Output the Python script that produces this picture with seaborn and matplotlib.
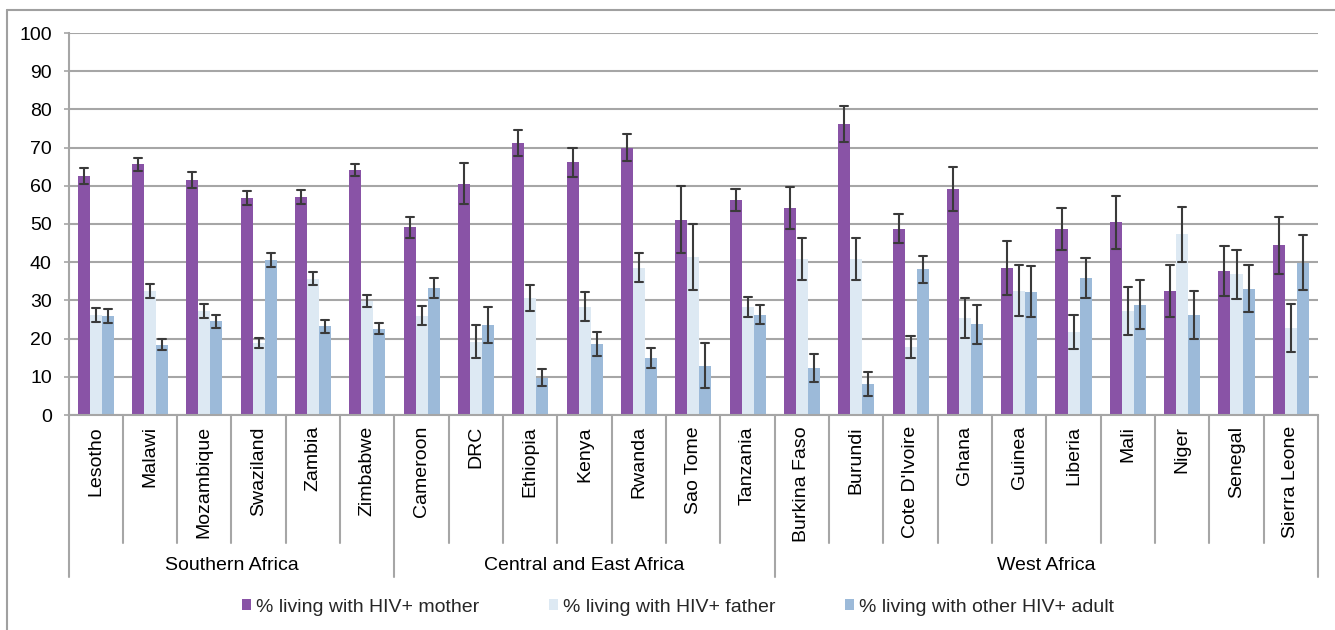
import numpy as np
import pandas as pd
import matplotlib
matplotlib.use("Agg")
import matplotlib.pyplot as plt
import matplotlib.transforms as mtransforms
from matplotlib.lines import Line2D
from matplotlib.patches import Patch
import seaborn as sns

# Countries, grouped by region
countries = ["Lesotho", "Malawi", "Mozambique", "Swaziland", "Zambia", "Zimbabwe",
             "Cameroon", "DRC", "Ethiopia", "Kenya", "Rwanda", "Sao Tome", "Tanzania",
             "Burkina Faso", "Burundi", "Cote D'Ivoire", "Ghana", "Guinea", "Liberia",
             "Mali", "Niger", "Senegal", "Sierra Leone"]
regions = ["Southern Africa"] * 6 + ["Central and East Africa"] * 7 + ["West Africa"] * 10

# Percentages and half-widths of the confidence intervals
mother = [62.6, 65.6, 61.5, 56.8, 57.0, 64.1,
          49.1, 60.5, 71.3, 66.1, 70.0, 51.1, 56.3,
          54.2, 76.2, 48.8, 59.2, 38.5, 48.6, 50.4, 32.4, 37.7, 44.4]
mother_err = [2.1, 1.8, 2.2, 1.75, 1.85, 1.65,
              2.85, 5.35, 3.4, 3.85, 3.55, 8.75, 2.8,
              5.55, 4.65, 3.75, 5.8, 7.0, 5.5, 7.0, 6.8, 6.5, 7.4]
father = [26.2, 32.5, 27.3, 18.8, 35.7, 29.9,
          26.0, 19.2, 30.6, 28.4, 38.5, 41.4, 28.3,
          40.9, 40.9, 17.7, 25.4, 32.5, 21.8, 27.3, 47.3, 36.8, 22.7]
father_err = [1.75, 1.8, 1.85, 1.35, 1.75, 1.6,
              2.45, 4.25, 3.5, 3.7, 3.8, 8.6, 2.6,
              5.5, 5.5, 2.85, 5.15, 6.65, 4.45, 6.3, 7.2, 6.45, 6.25]
other = [25.9, 18.4, 24.5, 40.6, 23.2, 22.6,
         33.2, 23.6, 9.8, 18.5, 14.9, 12.9, 26.3,
         12.3, 8.2, 38.1, 23.8, 32.3, 35.9, 28.9, 26.2, 33.1, 39.9]
other_err = [1.75, 1.45, 1.8, 1.75, 1.75, 1.5,
             2.7, 4.65, 2.2, 3.15, 2.7, 5.85, 2.5,
             3.7, 3.1, 3.65, 5.1, 6.7, 5.25, 6.4, 6.25, 6.2, 7.25]

series_names = ["% living with HIV+ mother", "% living with HIV+ father",
                "% living with other HIV+ adult"]
colors = ["#8953A6", "#DDE9F3", "#9CBAD9"]

# Long-form table: each bar gets its lower and upper interval bound,
# so the mean is the bar height and the min/max span is the error bar.
rows = []
for name, vals, errs in zip(series_names, [mother, father, other],
                            [mother_err, father_err, other_err]):
    for c, v, e in zip(countries, vals, errs):
        rows.append((c, name, v - e))
        rows.append((c, name, v + e))
df = pd.DataFrame(rows, columns=["country", "series", "pct"])

sns.set_style("white")
plt.rcParams["font.family"] = ["Liberation Sans", "DejaVu Sans"]
FS = 14

W, H = 1335, 630
fig = plt.figure(figsize=(W / 100, H / 100), dpi=100)
ax = fig.add_axes([68.5 / W, 1 - 415 / H, (1318 - 68.5) / W, 382 / H])

sns.barplot(data=df, x="country", y="pct", hue="series",
            order=countries, hue_order=series_names, palette=colors,
            estimator="mean", errorbar=lambda x: (x.min(), x.max()),
            width=0.664, capsize=0.45, saturation=1, linewidth=0,
            err_kws={"color": "#3a3a3a", "linewidth": 1.5},
            legend=False, ax=ax)

grey = "#A6A6A6"
ax.set_xlim(-0.5, len(countries) - 0.5)
ax.set_ylim(0, 100)
ax.set_yticks(np.arange(0, 101, 10))
ax.yaxis.grid(True, color=grey, linewidth=1.5)
ax.xaxis.grid(False)
ax.set_axisbelow(True)
ax.set_xlabel("")
ax.set_ylabel("")
for side in ["top", "right"]:
    ax.spines[side].set_visible(False)
for side in ["left", "bottom"]:
    ax.spines[side].set_color(grey)
    ax.spines[side].set_linewidth(1.5)

ax.tick_params(axis="y", length=3.6, width=1.2, color=grey, pad=8.4,
               labelsize=FS, labelcolor="black", left=True)
ax.tick_params(axis="x", length=0, pad=8.0, labelsize=FS, labelcolor="black")
ax.set_xticks(range(len(countries)))
ax.set_xticklabels(countries, rotation=90, ha="center", va="top")

# Two-level category axis: country separators and region separators
trans = mtransforms.blended_transform_factory(ax.transData, ax.transAxes)
region_breaks = [-0.5]
for i in range(1, len(regions)):
    if regions[i] != regions[i - 1]:
        region_breaks.append(i - 0.5)
region_breaks.append(len(countries) - 0.5)
for b in np.arange(-0.5, len(countries), 1.0):
    depth = -0.424 if any(abs(b - r) < 1e-9 for r in region_breaks) else -0.335
    ax.add_line(Line2D([b, b], [0, depth], transform=trans, clip_on=False,
                       color=grey, linewidth=1.5))

for start, end in zip(region_breaks[:-1], region_breaks[1:]):
    name = regions[int(start + 0.5)]
    ax.text((start + end) / 2, -0.393, name, transform=trans,
            ha="center", va="center", fontsize=FS, color="black")

handles = [Patch(facecolor=c, edgecolor="none") for c in colors]
fig.legend(handles, series_names, loc="center", bbox_to_anchor=(0.508, 1 - 607 / H),
           ncol=3, frameon=False, fontsize=FS, handlelength=0.45,
           handleheight=0.45, handletextpad=0.25, columnspacing=3.6)

# Outer chart frame (left and top edges)
fx, fy = 7 / W, 1 - 10 / H
fig.add_artist(Line2D([fx, fx], [0, fy], transform=fig.transFigure,
                      color="#A0A0A0", linewidth=1.5))
fig.add_artist(Line2D([fx, 1], [fy, fy], transform=fig.transFigure,
                      color="#A0A0A0", linewidth=1.5))

fig.savefig("out.png", dpi=100)
